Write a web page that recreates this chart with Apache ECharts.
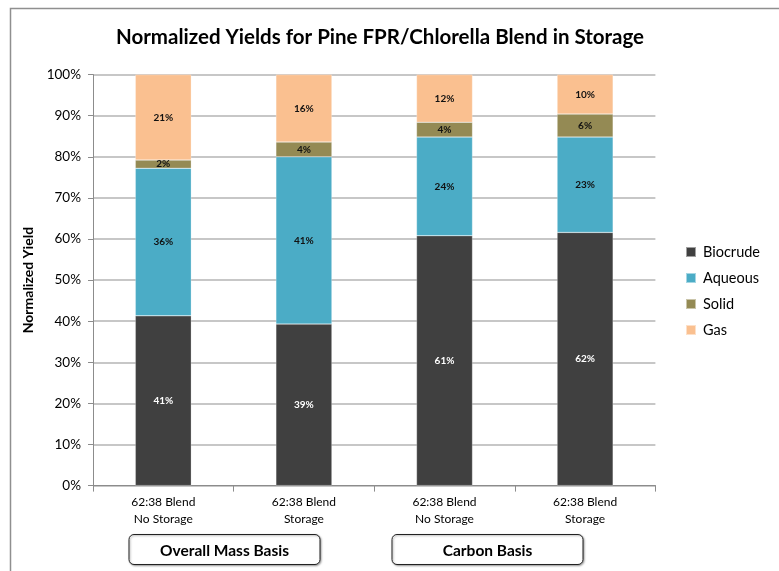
<!DOCTYPE html>
<html>
<head>
<meta charset="utf-8">
<script src="https://cdn.jsdelivr.net/npm/echarts@6/dist/echarts.min.js"></script>
<style>
  html, body { margin: 0; padding: 0; background: #fff; }
  #chart { width: 779px; height: 571px; }
</style>
</head>
<body>
<div id="chart"></div>
<script>
// Category labels (two lines each)
const categories = [
  '62:38 Blend\nNo Storage',
  '62:38 Blend\nStorage',
  '62:38 Blend\nNo Storage',
  '62:38 Blend\nStorage'
];
// Normalized yields, percent of total
const biocrude = [41.3, 39.3, 60.8, 61.6];
const aqueous  = [35.9, 40.7, 24.0, 23.2];
const solid    = [2.0, 3.6, 3.6, 5.6];
const gas      = [20.8, 16.4, 11.6, 9.6];
const seriesNames = ['Biocrude', 'Aqueous', 'Solid', 'Gas'];
const groupLabels = ['Overall Mass Basis', 'Carbon Basis'];
const yTicks = [0, 10, 20, 30, 40, 50, 60, 70, 80, 90, 100];

const FONT = 'Lato, "Open Sans", sans-serif';
const colors = ['#404040', '#4BACC6', '#948A54', '#FAC090'];
const values = [biocrude, aqueous, solid, gas];

const chart = echarts.init(document.getElementById('chart'), null, { renderer: 'canvas' });

const series = seriesNames.map((name, i) => ({
  name: name,
  type: 'bar',
  stack: 'total',
  barWidth: 56,
  data: values[i],
  itemStyle: { color: colors[i], borderColor: 'rgba(255,255,255,0.5)', borderWidth: 0.5 },
  label: {
    show: true,
    position: 'inside',
    formatter: p => Math.round(p.value) + '%',
    color: i === 0 ? '#ffffff' : '#111111',
    fontFamily: FONT,
    fontWeight: 'bold',
    fontSize: 10
  },
  emphasis: { disabled: true }
}));

// Rounded caption box under a pair of bars
function groupBox(cx, text) {
  return {
    type: 'group',
    children: [
      {
        type: 'rect',
        shape: { x: cx - 95.5, y: 534.5, width: 191, height: 30, r: 5 },
        style: {
          fill: '#fff', stroke: '#222', lineWidth: 1,
          shadowBlur: 2, shadowOffsetX: 1, shadowOffsetY: 1, shadowColor: 'rgba(0,0,0,0.35)'
        }
      },
      {
        type: 'text',
        x: cx, y: 551,
        style: {
          text: text, fill: '#000', font: 'bold 15.5px ' + FONT,
          textAlign: 'center', textVerticalAlign: 'middle'
        }
      }
    ]
  };
}

chart.setOption({
  animation: false,
  backgroundColor: '#fff',
  title: {
    text: 'Normalized Yields for Pine FPR/Chlorella Blend in Storage',
    left: 375, top: 22, textAlign: 'center',
    textStyle: { fontFamily: FONT, fontWeight: 'bold', fontSize: 20.5, color: '#000' }
  },
  legend: {
    orient: 'vertical',
    left: 680, top: 239,
    itemWidth: 10, itemHeight: 10, itemGap: 10,
    icon: 'rect',
    data: seriesNames,
    textStyle: { fontFamily: FONT, fontSize: 14.5, color: '#000', lineHeight: 16, padding: [0, 0, 0, 2] }
  },
  grid: { left: 93, top: 74.6, width: 562.4, height: 411, containLabel: false },
  xAxis: {
    type: 'category',
    data: categories,
    axisLine: { lineStyle: { color: '#8c8c8c', width: 1 } },
    axisTick: { show: true, length: 6, interval: 0, lineStyle: { color: '#8c8c8c' } },
    axisLabel: {
      interval: 0, margin: 8, fontFamily: FONT, fontSize: 12, color: '#000', lineHeight: 17
    }
  },
  yAxis: {
    type: 'value',
    min: 0, max: 100, interval: 10,
    name: 'Normalized Yield',
    nameLocation: 'middle',
    nameGap: 58,
    nameTextStyle: { fontFamily: FONT, fontWeight: 'bold', fontSize: 14, color: '#000' },
    axisLine: { show: true, lineStyle: { color: '#8c8c8c', width: 1 } },
    axisTick: { show: true, length: 5, lineStyle: { color: '#8c8c8c' } },
    axisLabel: {
      margin: 12, fontFamily: FONT, fontSize: 13.5, color: '#000',
      formatter: v => (yTicks.indexOf(v) >= 0 ? v + '%' : '')
    },
    splitLine: { lineStyle: { color: '#b4b4b4', width: 1.5 } }
  },
  series: series,
  graphic: [
    {
      type: 'rect',
      shape: { x: 10.5, y: 8.5, width: 800, height: 600 },
      style: { fill: 'none', stroke: '#8f8f8f', lineWidth: 1.5 },
      z: -1
    },
    groupBox(224.5, groupLabels[0]),
    groupBox(487.5, groupLabels[1])
  ]
});
</script>
</body>
</html>
